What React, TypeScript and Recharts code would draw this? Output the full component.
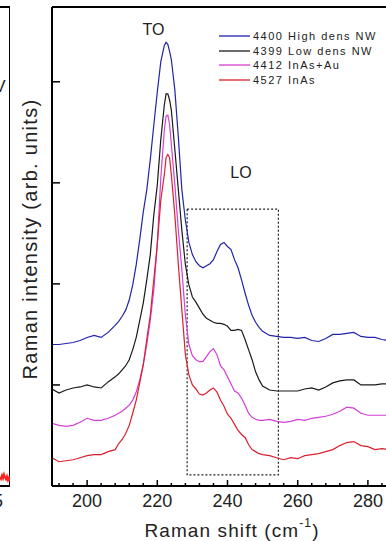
import { LineChart, Line, XAxis, YAxis, ReferenceArea, ReferenceLine, Legend } from "recharts";

// Raman shift (cm-1)
const SHIFT = [
  190, 192, 194, 196, 198, 200, 202, 204, 206, 208,
  209, 210, 211, 212, 213, 214, 215, 216, 217, 218, 219, 220, 221, 222,
  222.5, 223, 223.5, 224, 225, 226, 227, 228, 229, 230,
  231, 232, 233, 234, 235, 236, 237, 238, 239, 240,
  241, 242, 243, 244, 245, 246, 247, 248, 249, 250,
  252, 254, 256, 258, 260, 262, 264, 266, 268, 270,
  272, 274, 276, 278, 280, 282, 284, 286, 288, 290,
];

// intensities (arb. units, curves offset as in the figure)
const HIGH_DENS = [
  1.40, 1.40, 1.41, 1.42, 1.44, 1.47, 1.49, 1.47, 1.52, 1.59,
  1.63, 1.68, 1.74, 1.84, 1.99, 2.19, 2.44, 2.71, 2.93, 3.23, 3.57, 3.90, 4.20, 4.36,
  4.39, 4.37, 4.30, 4.22, 3.92, 3.45, 2.93, 2.63, 2.41, 2.29,
  2.22, 2.18, 2.16, 2.18, 2.20, 2.24, 2.32, 2.39, 2.41, 2.37,
  2.34, 2.24, 2.16, 2.04, 1.91, 1.79, 1.69, 1.62, 1.57, 1.53,
  1.49, 1.48, 1.47, 1.47, 1.46, 1.47, 1.44, 1.43, 1.46, 1.50,
  1.50, 1.51, 1.52, 1.48, 1.47, 1.47, 1.45, 1.44, 1.44, 1.44,
];
const LOW_DENS = [
  0.96, 0.92, 0.95, 0.97, 0.98, 1.00, 0.98, 0.97, 1.03, 1.08,
  1.11, 1.15, 1.19, 1.25, 1.35, 1.47, 1.64, 1.81, 2.04, 2.29, 2.68, 2.98, 3.43, 3.77,
  3.88, 3.88, 3.82, 3.72, 3.33, 2.93, 2.53, 2.19, 1.99, 1.87,
  1.82, 1.76, 1.70, 1.66, 1.64, 1.62, 1.61, 1.61, 1.60, 1.58,
  1.54, 1.54, 1.55, 1.54, 1.45, 1.35, 1.25, 1.13, 1.05, 0.99,
  0.95, 0.94, 0.94, 0.94, 0.94, 0.96, 0.97, 0.95, 0.98, 1.02,
  1.04, 1.05, 1.05, 1.00, 1.00, 1.00, 1.01, 1.01, 1.01, 1.01,
];
const INAS_AU = [
  0.62, 0.60, 0.59, 0.60, 0.63, 0.67, 0.65, 0.65, 0.67, 0.70,
  0.72, 0.74, 0.77, 0.80, 0.85, 0.93, 1.05, 1.20, 1.40, 1.64, 1.94, 2.40, 3.05, 3.52,
  3.66, 3.67, 3.58, 3.38, 2.98, 2.53, 2.14, 1.69, 1.40, 1.29,
  1.25, 1.23, 1.23, 1.28, 1.33, 1.36, 1.30, 1.19, 1.15, 1.08,
  1.01, 0.94, 0.92, 0.87, 0.80, 0.72, 0.68, 0.66, 0.65, 0.65,
  0.66, 0.64, 0.63, 0.64, 0.66, 0.65, 0.67, 0.68, 0.69, 0.71,
  0.74, 0.78, 0.77, 0.72, 0.70, 0.70, 0.70, 0.70, 0.70, 0.70,
];
const INAS = [
  0.28, 0.24, 0.25, 0.26, 0.28, 0.30, 0.31, 0.31, 0.34, 0.36,
  0.42, 0.46, 0.52, 0.60, 0.72, 0.85, 1.02, 1.20, 1.45, 1.69, 2.04, 2.39, 2.83, 3.08,
  3.25, 3.28, 3.25, 3.08, 2.68, 2.19, 1.74, 1.30, 1.10, 1.00,
  0.96, 0.91, 0.90, 0.92, 0.95, 0.97, 0.93, 0.85, 0.79, 0.71,
  0.67, 0.61, 0.55, 0.51, 0.48, 0.41, 0.36, 0.34, 0.32, 0.31,
  0.30, 0.28, 0.26, 0.28, 0.27, 0.30, 0.31, 0.32, 0.34, 0.36,
  0.40, 0.43, 0.44, 0.40, 0.39, 0.36, 0.37, 0.36, 0.35, 0.36,
];

const NAMES = ["4400 High dens NW", "4399 Low dens NW", "4412 InAs+Au", "4527 InAs"];
const KEYS = ["high", "low", "au", "inas"];
const COLORS = ["#2323aa", "#1a1a1a", "#d43fd4", "#d8202e"];

const X_TICKS = [
  192, 196, 200, 204, 208, 212, 216, 220, 224, 228, 232, 236, 240,
  244, 248, 252, 256, 260, 264, 268, 272, 276, 280, 284, 288,
];
const Y_TICKS = [1, 2, 3, 4];
const Y_MAX = 4.74;

// LO region box
const BOX_X = [228.5, 254.5];
const BOX_Y = [0.11, 2.74];

// edge of the neighbouring panel (cut off on the left)
const SIDE_X = [30, 31, 32, 33, 34, 35, 36, 37, 38, 39, 40];
const SIDE_Y = [1.9, 1.5, 2.2, 1.6, 2.4, 1.8, 1.4, 2.0, 1.2, 1.7, 1.0];

const data = SHIFT.map((s, i) => ({
  shift: s,
  high: HIGH_DENS[i],
  low: LOW_DENS[i],
  au: INAS_AU[i],
  inas: INAS[i],
}));
const sideData = SIDE_X.map((x, i) => ({ x, y: SIDE_Y[i] }));

const FONT = "'Liberation Sans', Arial, sans-serif";
const frame = { stroke: "#000", strokeWidth: 2, ifOverflow: "visible" as const };

function XTick({ x, y, payload }: any) {
  const major = payload.value % 20 === 0;
  return (
    <g>
      <line x1={x} x2={x} y1={y} y2={y - (major ? 6 : 3)} stroke="#000" strokeWidth={1.5} />
      {major && (
        <text x={x} y={y + 21} textAnchor="middle" fontSize={18} fill="#222" fontFamily={FONT}>
          {payload.value}
        </text>
      )}
    </g>
  );
}

const NoLabel = () => <g />;

function LegendBox({ payload }: any) {
  const items = [...(payload || [])].sort(
    (a: any, b: any) => NAMES.indexOf(a.value) - NAMES.indexOf(b.value)
  );
  return (
    <div style={{ fontFamily: FONT, fontSize: 11, color: "#222", letterSpacing: 1.5 }}>
      {items.map((p: any) => (
        <div key={p.value} style={{ display: "flex", alignItems: "center", height: 14.5 }}>
          <svg width={32} height={4} style={{ marginRight: 2 }}>
            <line x1={0} x2={31} y1={2} y2={2} stroke={p.color} strokeWidth={1.3} />
          </svg>
          <span style={{ whiteSpace: "nowrap" }}>{p.value}</span>
        </div>
      ))}
    </div>
  );
}

export default function App() {
  return (
    <div
      style={{
        position: "absolute", left: 0, top: 0, width: 386, height: 541,
        overflow: "hidden", background: "#fff", fontFamily: FONT,
      }}
    >
      {/* neighbouring panel edge */}
      <div style={{ position: "absolute", left: -30, top: 0 }}>
        <LineChart width={40} height={541} data={sideData} margin={{ top: 7, right: 0, bottom: 0, left: 0 }}>
          <XAxis dataKey="x" type="number" domain={[0, 40]} height={55} tick={false} tickLine={false} axisLine={false} />
          <YAxis width={0} domain={[0, 100]} tick={false} tickLine={false} axisLine={false} allowDataOverflow />
          <ReferenceLine y={100} {...frame} />
          <ReferenceLine y={0} {...frame} />
          <ReferenceLine x={40} {...frame} />
          <Line dataKey="y" stroke="#ff2020" strokeWidth={2} dot={false} isAnimationActive={false} />
        </LineChart>
      </div>

      <div style={{ position: "absolute", left: 0, top: 0 }}>
        <LineChart width={404} height={541} data={data} margin={{ top: 7, right: 1, bottom: 0, left: 0 }}>
          <XAxis
            dataKey="shift" type="number" domain={[190, 290]} ticks={X_TICKS} interval={0}
            height={55} tickSize={0} tickMargin={0} tickLine={false} tick={<XTick />}
            axisLine={{ stroke: "#000", strokeWidth: 2 }} allowDataOverflow
          />
          <YAxis
            type="number" domain={[0, Y_MAX]} ticks={Y_TICKS} interval={0} width={52}
            tickSize={-8} tick={<NoLabel />} tickLine={{ stroke: "#000", strokeWidth: 1.5 }}
            axisLine={{ stroke: "#000", strokeWidth: 2 }} allowDataOverflow
          />
          <ReferenceLine y={Y_MAX} {...frame} />
          <ReferenceArea
            x1={BOX_X[0]} x2={BOX_X[1]} y1={BOX_Y[0]} y2={BOX_Y[1]}
            fill="none" fillOpacity={0} stroke="#222" strokeWidth={1.2} strokeDasharray="2 2"
            ifOverflow="visible"
          />
          {KEYS.map((k, i) => (
            <Line
              key={k} dataKey={k} name={NAMES[i]} type="linear" stroke={COLORS[i]}
              strokeWidth={1.2} dot={false} isAnimationActive={false}
            />
          ))}
          <Legend
            layout="vertical" align="center" verticalAlign="middle" content={<LegendBox />}
            wrapperStyle={{ left: 219, top: 29, width: "auto", height: "auto" }}
          />
        </LineChart>
      </div>

      <svg width={386} height={541} style={{ position: "absolute", left: 0, top: 0, pointerEvents: "none" }}>
        <g fontFamily={FONT} fill="#222">
          <text x={5.5} y={92} fontSize={17} textAnchor="end">V</text>
          <text x={3} y={507} fontSize={18} textAnchor="end">5</text>
          <text x={153.5} y={35} fontSize={16} textAnchor="middle">TO</text>
          <text x={241} y={178} fontSize={16} textAnchor="middle">LO</text>
          <text
            transform="translate(37, 239) rotate(-90)" fontSize={20} textAnchor="middle" letterSpacing={1.3}
          >
            Raman intensity (arb. units)
          </text>
          <text x={232} y={537} fontSize={19} textAnchor="middle" letterSpacing={1.1}>
            Raman shift (cm<tspan fontSize={12} dy={-10}>-1</tspan><tspan dy={10}>)</tspan>
          </text>
        </g>
      </svg>
    </div>
  );
}
